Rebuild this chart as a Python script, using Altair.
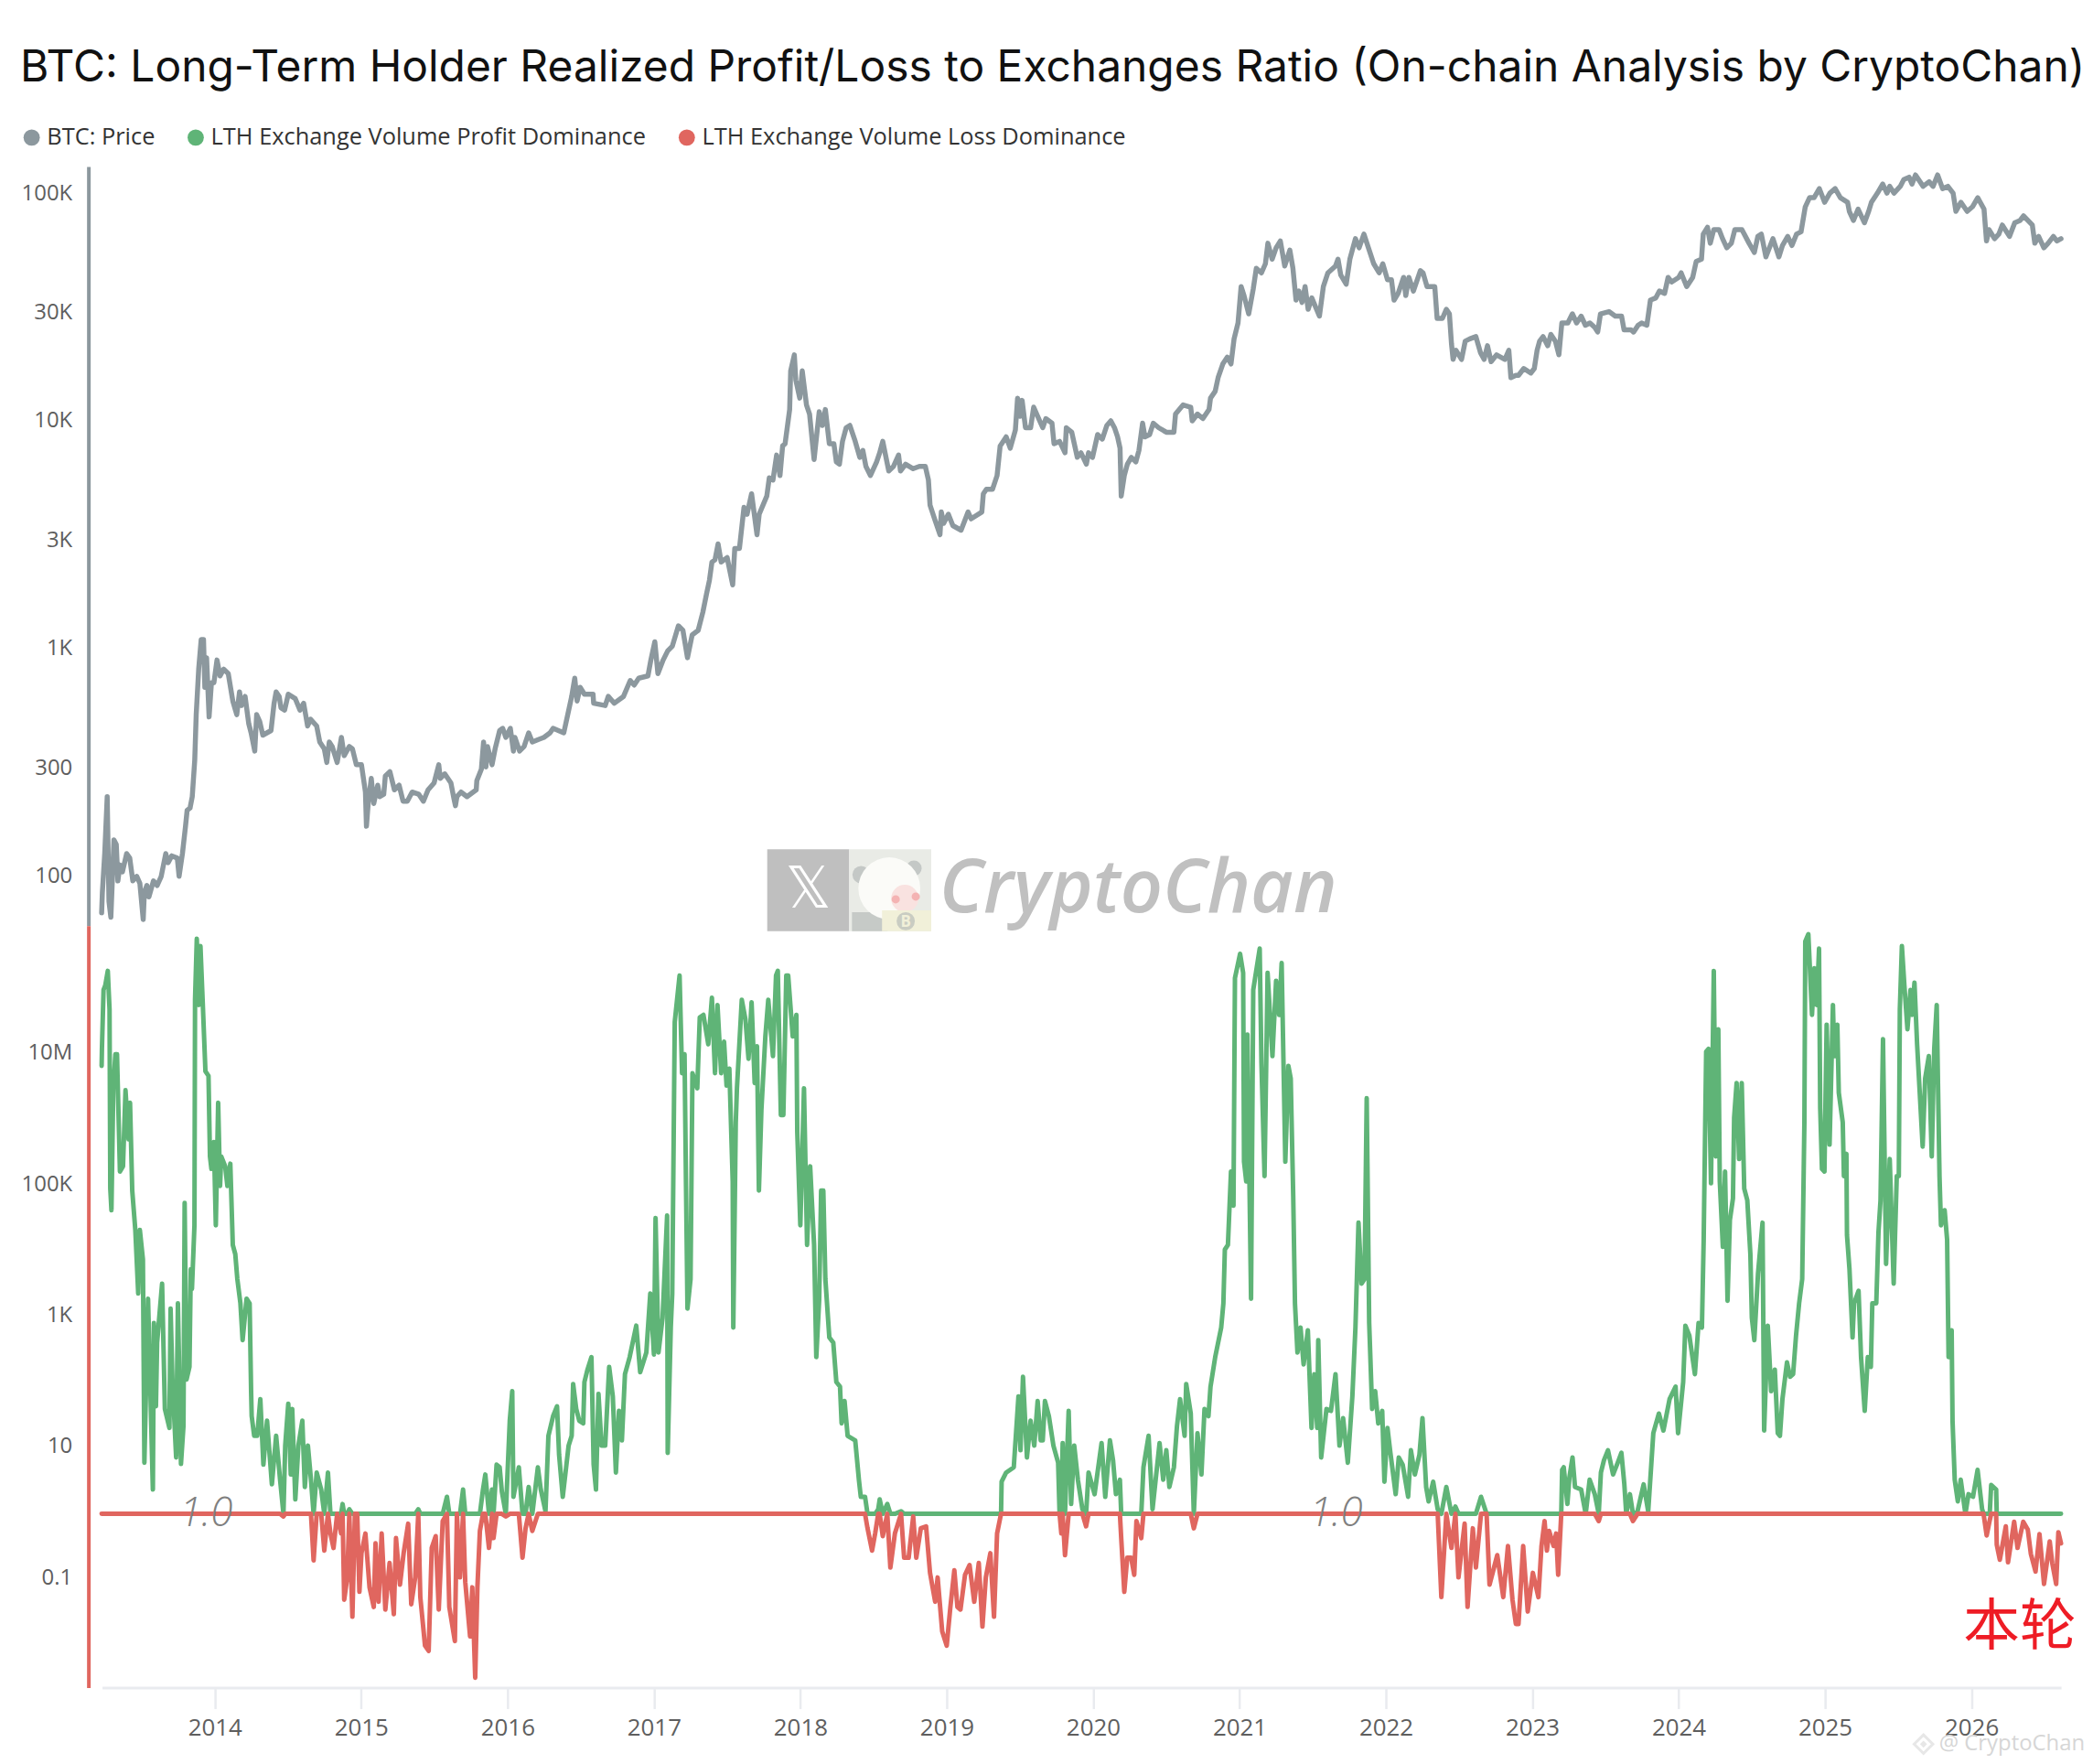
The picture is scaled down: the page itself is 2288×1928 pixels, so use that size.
import altair as alt
import pandas as pd

TITLE = "BTC: Long-Term Holder Realized Profit/Loss to Exchanges Ratio (On-chain Analysis by CryptoChan)"
SERIES = ["BTC: Price", "LTH Exchange Volume Profit Dominance", "LTH Exchange Volume Loss Dominance"]
GREY, GREEN, RED = "#8c989e", "#5fb477", "#e0665f"
TICK_YEARS = list(range(2014, 2027))
PRICE_TICKS = [100000, 30000, 10000, 3000, 1000, 300, 100]
RATIO_TICKS = [10000000, 100000, 1000, 10, 0.1]

# --- BTC price: decimal year / log10(USD)
price_years_a = [2013.227,2013.232,2013.248,2013.265,2013.277,2013.290,2013.311,2013.327,2013.338,2013.352,2013.369,2013.398,2013.419,2013.440,2013.467,2013.488,2013.511,2013.519,2013.536,2013.550,2013.581,2013.606,2013.634,2013.665,2013.681,2013.706,2013.744,2013.756,2013.779,2013.800,2013.811,2013.831,2013.846,2013.863,2013.873,2013.890,2013.907,2013.923,2013.932,2013.944,2013.961,2013.977,2013.994,2014.015,2014.036,2014.061,2014.092,2014.123,2014.150,2014.169,2014.182,2014.207,2014.232,2014.248,2014.273,2014.286,2014.307,2014.328,2014.384,2014.405,2014.419,2014.440,2014.452,2014.477,2014.502,2014.550,2014.582,2014.607,2014.634,2014.654,2014.696,2014.717,2014.748,2014.765,2014.782,2014.802,2014.836,2014.865,2014.884,2014.919,2014.940,2014.967,2015.002,2015.029,2015.036,2015.048,2015.069,2015.086,2015.113,2015.127,2015.154,2015.165,2015.196,2015.227,2015.259,2015.286,2015.315,2015.348,2015.394,2015.425,2015.457,2015.498,2015.530,2015.540,2015.571,2015.613,2015.634,2015.644,2015.654,2015.682,2015.723,2015.786,2015.790,2015.821,2015.836,2015.852,2015.863,2015.894,2015.915,2015.946,2015.967,2015.988,2016.019,2016.040,2016.050,2016.082,2016.113,2016.144,2016.169,2016.207,2016.248,2016.290,2016.311,2016.384]
price_log_a = [1.84,1.93,2.10,2.35,1.89,1.82,2.16,2.14,1.98,2.05,2.02,2.10,2.08,1.98,2.00,1.97,1.81,1.93,1.96,1.91,1.98,1.96,2.00,2.10,2.06,2.09,2.08,2.00,2.10,2.22,2.29,2.30,2.35,2.51,2.71,2.91,3.04,3.04,2.83,2.96,2.70,2.85,2.85,2.95,2.88,2.91,2.89,2.77,2.71,2.81,2.75,2.79,2.67,2.63,2.55,2.71,2.68,2.62,2.64,2.76,2.81,2.79,2.74,2.73,2.80,2.78,2.73,2.76,2.66,2.69,2.66,2.59,2.56,2.50,2.59,2.57,2.50,2.61,2.53,2.57,2.56,2.49,2.49,2.37,2.22,2.32,2.43,2.32,2.40,2.35,2.36,2.44,2.46,2.38,2.40,2.33,2.33,2.37,2.36,2.33,2.38,2.41,2.49,2.43,2.45,2.41,2.34,2.31,2.35,2.37,2.35,2.38,2.42,2.47,2.59,2.48,2.57,2.49,2.56,2.64,2.65,2.61,2.65,2.55,2.61,2.55,2.57,2.63,2.59,2.60,2.61,2.63,2.65,2.63]
price_years_b = [2016.438,2016.459,2016.475,2016.496,2016.525,2016.584,2016.588,2016.667,2016.688,2016.729,2016.792,2016.838,2016.865,2016.896,2016.959,2016.979,2017.006,2017.027,2017.063,2017.094,2017.125,2017.167,2017.198,2017.229,2017.261,2017.302,2017.334,2017.359,2017.379,2017.396,2017.417,2017.438,2017.459,2017.500,2017.538,2017.552,2017.584,2017.615,2017.636,2017.667,2017.704,2017.719,2017.771,2017.788,2017.813,2017.838,2017.861,2017.879,2017.896,2017.927,2017.934,2017.959,2017.969,2017.996,2018.013,2018.042,2018.063,2018.094,2018.129,2018.150,2018.171,2018.198,2018.229,2018.246,2018.267,2018.288,2018.313,2018.338,2018.375,2018.406,2018.427,2018.448,2018.479,2018.521,2018.542,2018.563,2018.604,2018.636,2018.671,2018.684,2018.719,2018.771,2018.813,2018.854,2018.875,2018.886,2018.917,2018.954,2018.963,2018.979,2019.011,2019.042,2019.098,2019.146,2019.167,2019.240,2019.250,2019.271,2019.313,2019.344,2019.365,2019.406,2019.434,2019.469,2019.484,2019.500,2019.515,2019.538,2019.573,2019.594,2019.642]
price_log_b = [2.79,2.87,2.77,2.83,2.80,2.80,2.76,2.75,2.79,2.76,2.79,2.86,2.84,2.87,2.88,2.95,3.03,2.89,2.95,2.99,3.01,3.10,3.08,2.96,3.06,3.08,3.16,3.24,3.30,3.38,3.39,3.46,3.38,3.40,3.28,3.44,3.44,3.62,3.59,3.68,3.50,3.59,3.67,3.75,3.74,3.85,3.76,3.89,3.90,4.05,4.22,4.29,4.18,4.10,4.22,4.07,4.03,3.83,4.04,3.98,4.05,3.90,3.90,3.82,3.81,3.91,3.97,3.98,3.91,3.84,3.87,3.80,3.76,3.82,3.86,3.91,3.78,3.80,3.85,3.78,3.81,3.79,3.80,3.80,3.74,3.63,3.57,3.50,3.60,3.55,3.59,3.54,3.52,3.60,3.57,3.60,3.68,3.70,3.70,3.76,3.89,3.93,3.88,3.96,4.10,4.02,4.09,3.97,3.97,4.06,3.99]
price_years_c = [2019.656,2019.677,2019.719,2019.733,2019.771,2019.808,2019.817,2019.854,2019.892,2019.917,2019.954,2019.969,2019.996,2020.031,2020.063,2020.094,2020.121,2020.146,2020.167,2020.184,2020.192,2020.213,2020.234,2020.261,2020.292,2020.313,2020.338,2020.354,2020.386,2020.411,2020.448,2020.500,2020.552,2020.563,2020.615,2020.667,2020.677,2020.713,2020.750,2020.792,2020.802,2020.834,2020.854,2020.886,2020.917,2020.942,2020.963,2020.990,2021.011,2021.031,2021.063,2021.094,2021.115,2021.150,2021.177,2021.194,2021.223,2021.250,2021.279,2021.309,2021.344,2021.365,2021.386,2021.406,2021.427,2021.448,2021.469,2021.494,2021.546,2021.573,2021.604,2021.656,2021.673,2021.692,2021.729,2021.754,2021.792,2021.817,2021.850,2021.886,2021.917,2021.954,2021.979,2022.011,2022.038,2022.056,2022.084,2022.121,2022.136,2022.157,2022.188,2022.236,2022.254,2022.281,2022.334,2022.350,2022.386,2022.413,2022.434,2022.448,2022.459,2022.479,2022.517,2022.542,2022.573,2022.615,2022.646,2022.671,2022.694,2022.719,2022.756,2022.813,2022.840,2022.854,2022.888]
price_log_c = [3.97,4.01,3.99,3.90,3.91,3.86,3.97,3.95,3.84,3.86,3.81,3.86,3.84,3.94,3.92,3.98,4.00,3.97,3.93,3.88,3.67,3.76,3.81,3.84,3.82,3.87,3.99,3.93,3.94,3.99,3.97,3.95,3.95,4.03,4.07,4.06,4.00,4.03,4.01,4.05,4.10,4.13,4.19,4.25,4.28,4.25,4.36,4.43,4.59,4.55,4.47,4.58,4.67,4.65,4.69,4.78,4.71,4.76,4.79,4.68,4.75,4.67,4.53,4.57,4.52,4.59,4.49,4.54,4.46,4.59,4.65,4.68,4.71,4.64,4.60,4.71,4.80,4.76,4.82,4.75,4.69,4.65,4.69,4.62,4.62,4.53,4.56,4.63,4.55,4.63,4.57,4.66,4.65,4.59,4.59,4.45,4.45,4.49,4.47,4.34,4.27,4.31,4.27,4.35,4.36,4.37,4.30,4.27,4.33,4.26,4.29,4.27,4.31,4.19,4.20]
price_years_d = [2022.906,2022.942,2022.990,2023.014,2023.033,2023.050,2023.074,2023.106,2023.127,2023.158,2023.182,2023.202,2023.243,2023.274,2023.303,2023.334,2023.363,2023.394,2023.428,2023.447,2023.466,2023.524,2023.567,2023.610,2023.627,2023.675,2023.692,2023.723,2023.747,2023.783,2023.807,2023.844,2023.868,2023.904,2023.928,2023.952,2024.000,2024.017,2024.055,2024.096,2024.120,2024.156,2024.168,2024.197,2024.216,2024.240,2024.276,2024.300,2024.329,2024.360,2024.384,2024.432,2024.481,2024.517,2024.541,2024.565,2024.596,2024.644,2024.685,2024.709,2024.745,2024.774,2024.805,2024.836,2024.865,2024.894,2024.925,2024.961,2024.997,2025.033,2025.069,2025.105,2025.154,2025.166,2025.194,2025.226,2025.269,2025.298,2025.317,2025.358,2025.394,2025.423,2025.442,2025.471,2025.514,2025.538,2025.574,2025.594,2025.618,2025.670,2025.711,2025.738,2025.769,2025.803,2025.839,2025.875,2025.894,2025.928,2025.971,2026.007,2026.043,2026.086,2026.103,2026.120,2026.158,2026.187,2026.211,2026.260,2026.296,2026.332,2026.356,2026.416,2026.433,2026.459,2026.495,2026.524,2026.560,2026.584,2026.612]
price_log_d = [4.20,4.23,4.21,4.23,4.31,4.35,4.37,4.33,4.38,4.35,4.29,4.43,4.43,4.47,4.43,4.46,4.42,4.43,4.41,4.39,4.47,4.48,4.46,4.46,4.40,4.40,4.39,4.42,4.43,4.42,4.53,4.54,4.57,4.56,4.63,4.61,4.63,4.65,4.59,4.63,4.70,4.71,4.82,4.85,4.78,4.84,4.84,4.80,4.76,4.78,4.84,4.84,4.78,4.74,4.81,4.82,4.72,4.80,4.72,4.77,4.81,4.77,4.82,4.83,4.94,4.98,4.98,5.02,4.96,5.00,5.02,4.98,4.96,4.92,4.88,4.93,4.87,4.92,4.96,5.00,5.04,5.00,5.03,5.00,5.03,5.06,5.07,5.04,5.08,5.03,5.05,5.03,5.08,5.02,5.03,5.00,4.92,4.96,4.92,4.94,4.98,4.93,4.79,4.84,4.80,4.82,4.86,4.81,4.87,4.88,4.90,4.86,4.78,4.81,4.76,4.78,4.81,4.79,4.80]

# --- Profit/loss ratio: decimal year / log10(ratio)
ratio_years_a = [2013.227,2013.229,2013.240,2013.252,2013.269,2013.281,2013.286,2013.294,2013.307,2013.321,2013.332,2013.352,2013.373,2013.390,2013.411,2013.421,2013.436,2013.457,2013.477,2013.488,2013.509,2013.519,2013.544,2013.577,2013.584,2013.598,2013.606,2013.640,2013.659,2013.690,2013.698,2013.711,2013.736,2013.748,2013.769,2013.786,2013.794,2013.807,2013.827,2013.836,2013.844,2013.861,2013.865,2013.877,2013.890,2013.902,2013.919,2013.936,2013.957,2013.967,2013.977,2013.994,2014.007,2014.023,2014.036,2014.044,2014.071,2014.086,2014.106,2014.123,2014.140,2014.154,2014.175,2014.190,2014.217,2014.238,2014.248,2014.252,2014.269,2014.290,2014.311,2014.332,2014.357,2014.390,2014.419,2014.446,2014.469,2014.481,2014.502,2014.519,2014.529,2014.550,2014.571,2014.598,2014.615,2014.636,2014.657,2014.675,2014.696,2014.727,2014.748,2014.773,2014.790,2014.811,2014.836,2014.863,2014.873,2014.884,2014.905,2014.919,2014.940,2014.957,2014.973,2014.988,2015.002,2015.029,2015.057,2015.086,2015.098,2015.119,2015.140,2015.165,2015.194,2015.223,2015.238,2015.265,2015.290,2015.321,2015.342,2015.369,2015.390,2015.404,2015.436,2015.461,2015.482,2015.509,2015.530,2015.557,2015.586,2015.602,2015.640,2015.654,2015.675,2015.696,2015.711,2015.744,2015.759,2015.779,2015.794,2015.811,2015.832,2015.848,2015.873,2015.894,2015.904,2015.925,2015.946,2015.961,2015.988,2016.015,2016.032,2016.040,2016.077,2016.102,2016.123,2016.144,2016.169,2016.207,2016.227,2016.259,2016.279,2016.311,2016.338,2016.352,2016.377]
ratio_log_a = [6.83,7.09,7.99,8.06,8.28,7.69,4.96,4.63,6.53,7.01,7.01,5.22,5.30,6.46,5.71,6.27,4.93,4.33,3.36,4.33,3.88,0.78,3.28,0.37,2.91,1.64,2.61,3.51,1.60,1.31,3.13,2.01,0.86,3.21,0.76,1.34,4.74,2.05,2.24,3.73,3.43,4.40,7.84,8.77,7.76,8.66,7.72,6.75,6.68,5.45,5.26,5.67,4.40,6.27,5.00,5.45,5.30,5.00,5.34,4.10,3.96,3.58,3.21,2.65,3.28,3.21,1.87,1.49,1.19,1.19,1.75,0.75,1.42,0.45,1.19,0.52,-0.04,1.04,1.68,0.60,1.60,0.22,1.04,1.42,0.41,1.04,0.52,-0.71,0.63,0.37,-0.56,0.63,-0.30,-0.52,0,-0.30,0.15,-1.31,-0.97,0.07,-1.57,0,0,-1.19,-0.60,-0.30,-1.12,-1.42,-0.45,-1.34,-0.30,-1.46,-0.75,-1.53,-0.37,-1.08,-0.60,-0.15,-1.38,-0.97,0.07,-1.27,-2.01,-2.09,-0.52,-0.34,-1.46,-0.11,0.26,-1.42,-1.94,0,-0.97,0.37,-1.04,-1.87,-1.12,-2.50,-1.12,-0.26,0.37,0.60,-0.52,0.37,-0.37,0.75,0.71,0.34,-0.04,1.42,1.87,0.26,0.71,-0.67,-0.22,0.41,-0.26,0.71,0.37,0.04,1.19,1.49,1.64,0.90,0.26]
ratio_years_b = [2016.417,2016.438,2016.448,2016.469,2016.490,2016.517,2016.525,2016.546,2016.573,2016.588,2016.604,2016.621,2016.642,2016.667,2016.694,2016.719,2016.740,2016.761,2016.781,2016.802,2016.834,2016.879,2016.906,2016.948,2016.975,2017.000,2017.011,2017.031,2017.059,2017.090,2017.094,2017.115,2017.125,2017.142,2017.175,2017.192,2017.209,2017.219,2017.229,2017.250,2017.263,2017.296,2017.313,2017.338,2017.371,2017.396,2017.417,2017.434,2017.459,2017.479,2017.496,2017.515,2017.538,2017.542,2017.559,2017.567,2017.600,2017.625,2017.646,2017.667,2017.688,2017.704,2017.717,2017.734,2017.761,2017.781,2017.813,2017.834,2017.846,2017.867,2017.884,2017.904,2017.917,2017.948,2017.973,2017.979,2018.000,2018.025,2018.046,2018.067,2018.094,2018.109,2018.129,2018.142,2018.157,2018.171,2018.198,2018.225,2018.246,2018.271,2018.282,2018.302,2018.323,2018.375,2018.400,2018.413,2018.442,2018.459,2018.490,2018.511,2018.532,2018.542,2018.563,2018.594,2018.615,2018.646,2018.688,2018.709,2018.740,2018.771,2018.792,2018.823,2018.859,2018.886,2018.921,2018.938,2018.969,2019.000,2019.025,2019.052,2019.073,2019.094,2019.125,2019.156,2019.188,2019.219,2019.244,2019.267,2019.298,2019.323,2019.344,2019.371,2019.375,2019.406,2019.458,2019.490,2019.504,2019.521,2019.548,2019.573,2019.598,2019.621,2019.642]
ratio_log_b = [1.04,1.19,1.98,1.60,1.42,1.38,2.01,2.20,2.39,0.75,0.37,1.83,1.04,1.04,2.24,1.79,0.63,1.57,1.12,2.13,2.39,2.87,2.16,2.46,3.36,2.43,4.51,2.46,2.99,4.55,0.93,2.84,3.36,7.50,8.21,6.72,7.01,5.00,3.13,3.58,6.72,6.49,7.57,7.61,7.16,7.87,6.72,7.76,6.72,7.20,6.53,6.79,5.07,2.84,5.97,6.49,7.84,7.54,6.94,7.80,6.57,7.13,4.93,6.16,7.28,7.84,6.98,8.21,8.28,6.08,6.08,8.21,8.21,7.28,7.61,5.82,4.40,6.49,4.10,5.30,4.10,2.39,3.28,4.93,4.93,3.58,2.69,2.61,2.01,1.94,1.38,1.72,1.19,1.12,0.52,0.26,0.26,-0.22,-0.56,-0.30,0.07,0.22,-0.34,0.15,-0.82,-0.30,0.04,-0.67,-0.67,-0.04,-0.67,-0.22,-0.19,-0.90,-1.34,-0.97,-1.79,-2.01,-1.42,-0.86,-1.42,-1.46,-0.93,-0.78,-1.34,-0.75,-1.72,-0.97,-0.60,-1.57,-0.30,0,0.49,0.63,0.71,1.79,0.97,2.09,0.86,1.42,1.04,1.72,1.12]
ratio_years_c = [2019.656,2019.671,2019.698,2019.729,2019.761,2019.771,2019.783,2019.792,2019.808,2019.833,2019.850,2019.871,2019.896,2019.927,2019.952,2019.969,2020.010,2020.058,2020.083,2020.115,2020.136,2020.156,2020.183,2020.192,2020.213,2020.233,2020.260,2020.281,2020.296,2020.329,2020.344,2020.379,2020.406,2020.454,2020.479,2020.500,2020.521,2020.552,2020.573,2020.594,2020.625,2020.636,2020.667,2020.688,2020.713,2020.740,2020.761,2020.788,2020.802,2020.834,2020.875,2020.890,2020.900,2020.921,2020.942,2020.959,2020.969,2021.004,2021.025,2021.031,2021.046,2021.054,2021.079,2021.094,2021.138,2021.150,2021.171,2021.192,2021.225,2021.250,2021.271,2021.288,2021.313,2021.334,2021.350,2021.367,2021.379,2021.396,2021.417,2021.438,2021.467,2021.492,2021.511,2021.531,2021.538,2021.558,2021.594,2021.625,2021.656,2021.683,2021.708,2021.740,2021.771,2021.792,2021.813,2021.834,2021.854,2021.869,2021.886,2021.906,2021.927,2021.948,2021.975,2021.990,2022.011,2022.031,2022.067,2022.088,2022.115,2022.152,2022.171,2022.198,2022.229,2022.250,2022.275,2022.292,2022.323,2022.354,2022.379,2022.413,2022.448,2022.475,2022.496,2022.538,2022.558,2022.594,2022.615,2022.650,2022.688,2022.708,2022.761,2022.802,2022.834,2022.865,2022.888]
ratio_log_c = [1.12,1.72,1.49,1.04,0.78,0,-0.30,1.08,-0.63,1.57,0.15,1.04,0.52,0.07,-0.19,0.63,0.30,1.08,0.26,1.12,0.82,0.30,0.52,-0.37,-1.19,-0.67,-0.67,-0.93,-0.11,-0.37,0.71,1.19,0.07,1.08,0.52,0.97,0.41,0.71,1.34,1.75,1.19,1.98,1.53,-0.22,1.23,0.60,1.60,1.49,1.94,2.39,2.84,3.21,4.03,4.10,5.22,4.70,8.17,8.54,8.25,5.37,5.07,7.31,3.28,7.99,8.62,6.87,5.15,8.25,6.98,8.13,7.61,8.40,5.37,6.83,6.64,4.85,3.21,2.46,2.84,2.28,2.80,1.31,2.13,1.31,2.65,0.86,1.60,1.57,2.13,1.04,1.46,0.78,1.79,2.84,4.44,3.51,3.58,6.34,2.91,1.60,1.87,1.38,1.57,0.49,1.31,0.93,0.30,0.86,0.75,0.26,0.97,0.60,0.90,1.46,0.41,0.19,0.49,0.07,-1.27,0.41,-0.52,0.11,-0.97,-0.15,-1.42,-0.22,-0.82,0.26,0,-1.08,-0.63,-1.27,-0.49,-1.31,-1.68]
ratio_years_d = [2022.906,2022.938,2022.969,2023.004,2023.042,2023.063,2023.084,2023.100,2023.115,2023.146,2023.163,2023.177,2023.198,2023.204,2023.215,2023.240,2023.254,2023.275,2023.292,2023.334,2023.365,2023.392,2023.427,2023.454,2023.469,2023.490,2023.517,2023.552,2023.584,2023.609,2023.629,2023.642,2023.667,2023.688,2023.719,2023.761,2023.792,2023.813,2023.827,2023.865,2023.896,2023.938,2023.979,2023.996,2024.031,2024.046,2024.073,2024.111,2024.136,2024.159,2024.171,2024.188,2024.204,2024.221,2024.240,2024.254,2024.271,2024.281,2024.302,2024.317,2024.334,2024.350,2024.371,2024.379,2024.396,2024.413,2024.431,2024.448,2024.469,2024.490,2024.500,2024.517,2024.542,2024.573,2024.584,2024.609,2024.632,2024.657,2024.677,2024.692,2024.709,2024.740,2024.761,2024.782,2024.802,2024.823,2024.844,2024.859,2024.865,2024.886,2024.911,2024.927,2024.944,2024.959,2024.967,2024.979,2024.996,2025.011,2025.031,2025.054,2025.063,2025.084,2025.094,2025.121,2025.129,2025.146,2025.150,2025.167,2025.188,2025.198,2025.229,2025.246,2025.271,2025.292,2025.313,2025.323,2025.350,2025.365,2025.379,2025.396,2025.417,2025.442,2025.469,2025.490,2025.504,2025.511,2025.525,2025.542,2025.563,2025.584,2025.594,2025.611,2025.629,2025.667,2025.684,2025.709,2025.729,2025.746,2025.763,2025.782,2025.792,2025.817,2025.834,2025.844,2025.865,2025.871,2025.886,2025.907,2025.927,2025.959,2025.980,2026.011,2026.042,2026.073]
ratio_log_d = [-1.68,-0.49,-1.49,-0.90,-1.27,-0.49,-0.11,-0.56,-0.26,-0.49,-0.30,-0.93,0,0.67,0.71,0.15,0.56,0.86,0.41,0.37,0,0.52,0.30,-0.11,0.63,0.82,0.97,0.60,0.78,0.93,0.45,0,0.30,-0.11,0.04,0.45,0.04,0.75,1.23,1.53,1.27,1.75,1.94,1.23,2.01,2.87,2.72,2.13,2.91,2.84,4.18,7.05,7.09,5.04,8.28,5.45,7.39,5.07,4.07,5.22,3.25,4.48,4.81,6.04,6.57,5.41,6.57,4.96,4.78,3.96,2.99,2.65,3.66,4.44,1.27,2.87,1.87,2.20,1.23,1.19,1.75,2.31,2.09,2.13,2.72,3.21,3.58,5.97,8.73,8.84,7.61,8.32,7.76,8.62,6.19,5.26,5.22,7.46,5.63,7.76,6.98,7.46,6.42,5.97,5.15,5.49,4.25,3.73,2.69,3.21,3.40,2.39,1.57,2.39,2.24,3.21,3.21,4.29,4.78,7.24,3.81,5.41,3.51,5.15,5.15,7.69,8.66,8.06,7.39,7.99,7.61,8.10,7.16,5.60,6.64,6.98,5.45,7.09,7.76,5.15,4.40,4.63,4.18,2.39,2.80,1.42,0.52,0.19,0.52,0,0.30,0.26,0.67,0.07]
ratio_years_e = [2026.083,2026.104,2026.125,2026.135,2026.169,2026.173,2026.194,2026.235,2026.250,2026.292,2026.315,2026.354,2026.385,2026.406,2026.438,2026.465,2026.496,2026.535,2026.552,2026.579,2026.594,2026.612]
ratio_log_e = [0,-0.33,-0.10,0.44,0.37,-0.47,-0.70,-0.19,-0.74,-0.12,-0.52,-0.12,-0.24,-0.61,-0.88,-0.31,-1.07,-0.42,-0.75,-1.07,-0.28,-0.45]

price_years = price_years_a + price_years_b + price_years_c + price_years_d
price_log = price_log_a + price_log_b + price_log_c + price_log_d
ratio_years = ratio_years_a + ratio_years_b + ratio_years_c + ratio_years_d + ratio_years_e
ratio_log = ratio_log_a + ratio_log_b + ratio_log_c + ratio_log_d + ratio_log_e

price_df = pd.DataFrame({"year": price_years, "price": [10 ** e for e in price_log]})
ratio_df = pd.DataFrame({"year": ratio_years, "ratio": [10 ** e for e in ratio_log]})
ratio_df["profit"] = ratio_df["ratio"].clip(lower=1)
ratio_df["loss"] = ratio_df["ratio"].clip(upper=1)
legend_df = pd.DataFrame({"series": SERIES})
notes_df = pd.DataFrame({"year": [2013.94, 2021.66], "y": [1, 1], "t": ["1.0", "1.0"]})
round_df = pd.DataFrame({"year": [2026.33], "y": [10 ** -1.74], "t": ["本轮"]})

X_DOMAIN = [2013.23, 2026.6125]
PANEL_W = 2150
H_TOP, H_BOTTOM = 833, 836
LABEL_COLOR = "#5e5e5e"
LABEL_EXPR = ("datum.value>=1e6?format(datum.value/1e6,'d')+'M':"
              "datum.value>=1e3?format(datum.value/1e3,'d')+'K':format(datum.value,'~g')")
xs = alt.Scale(domain=X_DOMAIN, nice=False, zero=False)


def y_axis(values, color, shift=0):
    return alt.Axis(values=values, title=None, grid=False, ticks=False, offset=15, labelExpr=LABEL_EXPR,
                    domainColor=color, domainWidth=4, labelFont="Open Sans", labelFontSize=24,
                    labelColor=LABEL_COLOR, labelPadding=18, labelOverlap=False, labelOffset=shift)


one = alt.Data(values=[{"a": 1}])
OX_T, OY_T = 110, 178   # pixel origin of the top panel on the page
OX_B, OY_B = 110, 1005  # pixel origin of the bottom panel


def box(x0, y0, x1, y1, color):
    return alt.Chart(one).mark_rect(color=color).encode(
        x=alt.value(x0 - OX_T), x2=alt.value(x1 - OX_T), y=alt.value(y0 - OY_T), y2=alt.value(y1 - OY_T))


def dot(x, y, d, color):
    return alt.Chart(one).mark_point(filled=True, opacity=1, color=color, size=d * d).encode(
        x=alt.value(x - OX_T), y=alt.value(y - OY_T))


def label(x, y, text, color, size, font="Open Sans", **kw):
    return alt.Chart(one).mark_text(text=text, color=color, fontSize=size, font=font, baseline="middle", **kw).encode(
        x=alt.value(x - OX_T), y=alt.value(y - OY_T))


watermark = [
    box(840, 927, 930, 1017, "#bfbfbf"),
    box(930, 927, 1020, 1017, "#e9ebe6"),
    label(885, 972, "𝕏", "#ffffff", 62, font="DejaVu Sans"),
    box(933, 996, 972, 1017, "#c6cac7"),
    dot(943, 955, 19, "#c4c8c6"),
    dot(1001, 948, 17, "#c4c8c6"),
    dot(974, 970, 68, "#fbfbf8"),
    dot(991, 981, 30, "#f9e2e0"),
    dot(981, 982, 9, "#f4b3b3"),
    dot(1003, 979, 9, "#f4b3b3"),
    box(966, 994, 1020, 1017, "#f1f0d9"),
    dot(992, 1006, 20, "#c9ccc2"),
    label(992, 1007, "B", "#f1f0d9", 17, fontWeight="bold"),
    label(1247, 972, "CryptoChan", "#c0c0c0", 81, fontStyle="italic", fontWeight=600),
]

price_line = alt.Chart(price_df).mark_line(color=GREY, strokeWidth=5.5, strokeJoin="round", strokeCap="round").encode(
    x=alt.X("year:Q", scale=xs, axis=None),
    y=alt.Y("price:Q", scale=alt.Scale(type="log", domain=[10 ** 1.783, 10 ** 5.1165], nice=False),
            axis=y_axis(PRICE_TICKS, GREY)),
)
legend_layer = alt.Chart(legend_df).mark_circle(size=0).encode(
    x=alt.value(0), y=alt.value(0),
    fill=alt.Fill("series:N", scale=alt.Scale(domain=SERIES, range=[GREY, GREEN, RED]), sort=SERIES,
                  legend=alt.Legend(orient="none", legendX=-90, legendY=-45, direction="horizontal", title=None,
                                    symbolType="circle", symbolSize=320, symbolStrokeWidth=0, symbolOpacity=1,
                                    labelFont="Open Sans", labelFontSize=25.5, labelColor="#333333", labelLimit=900,
                                    columnPadding=31, labelOffset=4, padding=0)),
)
top = alt.layer(price_line, *watermark, legend_layer).properties(width=PANEL_W, height=H_TOP)

rx = alt.X("year:Q", scale=xs, axis=alt.Axis(
    values=TICK_YEARS, format="d", title=None, grid=False, domainColor="#e9ebef", domainWidth=3,
    tickColor="#e9ebef", tickWidth=2.5, tickSize=23, labelFont="Open Sans", labelFontSize=26,
    labelColor=LABEL_COLOR, labelPadding=8, labelFlush=False))
ry = alt.Scale(type="log", domain=[10 ** -2.65, 10 ** 8.968], nice=False)

profit = alt.Chart(ratio_df).mark_line(color=GREEN, strokeWidth=5, strokeJoin="round", strokeCap="round").encode(
    x=rx, y=alt.Y("profit:Q", scale=ry, axis=y_axis(RATIO_TICKS, RED, shift=-2)))
loss = alt.Chart(ratio_df).mark_line(color=RED, strokeWidth=5, strokeJoin="round", strokeCap="round").encode(
    x=alt.X("year:Q"), y=alt.Y("loss:Q"))
notes = alt.Chart(notes_df).mark_text(font="Open Sans", fontStyle="italic", fontSize=44, color="#7f7f7f",
                                      fontWeight=300).encode(
    x=alt.X("year:Q"), y=alt.Y("y:Q"), text="t:N")
round_note = alt.Chart(round_df).mark_text(font="Noto Sans CJK SC", fontSize=62, color="#ee1c25").encode(
    x=alt.X("year:Q"), y=alt.Y("y:Q"), text="t:N")
bw = [
    alt.Chart(one).mark_text(text="@ CryptoChan", color="#d6d6d6", fontSize=24, font="Open Sans", align="left",
                             baseline="middle").encode(x=alt.value(2126 - OX_B), y=alt.value(1903 - OY_B)),
    alt.Chart(one).mark_point(shape="diamond", filled=False, color="#dddddd", size=420, strokeWidth=3).encode(
        x=alt.value(2102 - OX_B + 7), y=alt.value(1903 - OY_B)),
    alt.Chart(one).mark_point(shape="diamond", filled=True, color="#dddddd", size=60).encode(
        x=alt.value(2102 - OX_B + 7), y=alt.value(1903 - OY_B)),
]
bottom = alt.layer(profit, loss, notes, round_note, *bw).properties(width=PANEL_W, height=H_BOTTOM)

chart = alt.vconcat(top, bottom, spacing=0, bounds="flush").properties(
    title=alt.TitleParams(TITLE, anchor="start", font="Inter", fontSize=48.1, fontWeight=400, color="#111111", offset=38),
    padding={"left": 14, "top": 39, "right": 0, "bottom": 0},
    background="white",
).configure_view(stroke=None)

chart.save("out.html", embed_options={"renderer": "svg", "actions": False})
